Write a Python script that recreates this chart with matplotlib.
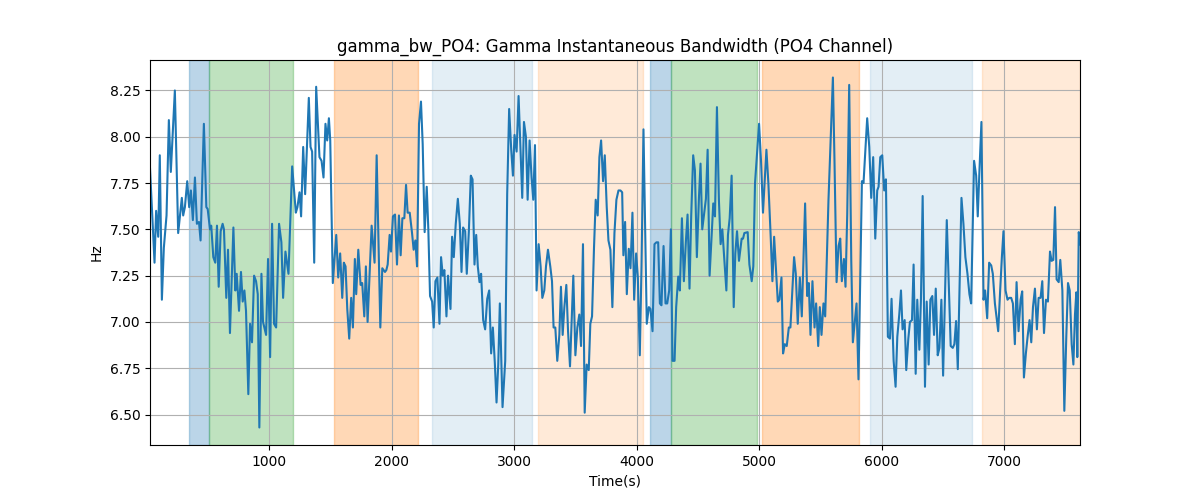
import matplotlib
matplotlib.use("Agg")
import matplotlib.pyplot as plt

time_s = [
    25, 62, 75, 92, 105, 122, 138, 160, 179, 195, 228, 255, 285, 296, 310, 329, 345, 359, 375, 392,
    408, 425, 438, 465, 485, 496, 515, 525, 542, 558, 572, 586, 602, 618, 629, 648, 662, 678, 706, 722,
    733, 752, 768, 782, 796, 809, 828, 842, 858, 875, 891, 905, 918, 935, 948, 973,
    989, 1006, 1022, 1038, 1055, 1079, 1098, 1112, 1131, 1156, 1186, 1216, 1229, 1246, 1259, 1276, 1292, 1322, 1336, 1349,
    1366, 1382, 1409, 1426, 1442, 1458, 1472, 1486, 1497, 1518, 1546, 1562, 1578, 1595, 1608, 1622, 1636, 1652, 1668, 1682,
    1698, 1709, 1726, 1745, 1758, 1775, 1788, 1802, 1835, 1859, 1876, 1906, 1922, 1944,
    1955, 1966, 1982, 1993, 2009, 2026, 2042, 2058, 2072, 2086, 2102, 2116, 2129, 2146, 2165, 2178, 2192, 2206, 2222, 2238,
    2252, 2268, 2285, 2298, 2312, 2329, 2342, 2356, 2372, 2389, 2402, 2416, 2429, 2446, 2459, 2479, 2492, 2506, 2522, 2539,
    2555, 2569, 2582, 2599, 2612, 2629, 2645, 2659, 2675, 2689, 2702, 2716, 2729, 2746, 2762, 2779, 2795, 2811, 2825, 2841,
    2855, 2869, 2882, 2904,
    2926, 2942, 2958, 2975, 2989, 3002, 3019, 3035, 3049, 3065, 3079, 3095, 3109, 3125, 3141, 3155, 3169, 3182, 3199, 3215,
    3229, 3245, 3259, 3275, 3294, 3308, 3321, 3335, 3351, 3368, 3381, 3395, 3409, 3425, 3439, 3455, 3482, 3499, 3515, 3531,
    3545, 3561, 3575, 3591, 3608, 3621, 3635, 3651, 3665, 3681, 3695, 3709, 3725, 3739, 3755, 3769, 3785, 3801, 3818, 3834,
    3851, 3867, 3881,
    3891, 3905, 3919, 3935, 3949, 3965, 3979, 3995, 4009, 4025, 4039, 4055, 4082, 4099, 4112, 4129, 4145, 4161, 4175, 4189,
    4202, 4219, 4235, 4249, 4265, 4279, 4292, 4309, 4322, 4339, 4352, 4369, 4385, 4401, 4415, 4431, 4445, 4461, 4475, 4491,
    4508, 4521, 4535, 4551, 4565, 4579, 4595, 4611, 4625, 4639, 4655, 4671, 4685, 4699, 4715, 4732, 4745, 4759, 4775, 4792,
    4805, 4819, 4835,
    4857, 4868, 4879, 4906, 4920, 4939, 4952, 4966, 4999, 5015, 5031, 5059, 5075, 5094, 5108, 5122, 5135, 5152, 5165, 5182,
    5195, 5209, 5225, 5242, 5255, 5269, 5285, 5299, 5315, 5332, 5348, 5375, 5392, 5405, 5419, 5435, 5452, 5465, 5482, 5495,
    5509, 5525, 5539, 5566, 5602, 5615, 5632, 5648, 5662, 5675, 5692, 5705, 5719, 5735, 5752, 5765, 5779, 5795,
    5811, 5839, 5852, 5882, 5899, 5915, 5931, 5948, 5964, 5975, 5989, 6005, 6021, 6035, 6051, 6068, 6081, 6098, 6114, 6128,
    6144, 6158, 6171, 6188, 6201, 6218, 6231, 6248, 6261, 6278, 6291, 6308, 6321, 6335, 6354, 6368, 6384, 6398, 6414, 6428,
    6442, 6458, 6472, 6488, 6502, 6532, 6548, 6564, 6581, 6594, 6608, 6622, 6652, 6668, 6684, 6701, 6717, 6731, 6755, 6772,
    6785, 6799, 6815, 6832, 6845, 6862, 6878, 6895, 6908, 6925, 6938, 6952, 6968, 6982, 6995, 7012, 7028, 7042, 7058, 7072,
    7088, 7102, 7118, 7135, 7148, 7162, 7178, 7192, 7208, 7222, 7236, 7252, 7268, 7282, 7298, 7312, 7326, 7342, 7358, 7375,
    7388, 7402, 7416, 7429, 7446, 7459, 7476, 7492, 7508, 7522, 7536, 7552, 7566, 7579, 7590, 7598, 7610, 7620,
]

bandwidth_hz = [
    7.83, 7.32, 7.60, 7.46, 7.90, 7.12, 7.40, 7.575, 8.09, 7.81, 8.25, 7.48, 7.67, 7.575, 7.62, 7.76, 7.62, 7.71, 7.55, 7.78,
    7.53, 7.54, 7.44, 8.07, 7.62, 7.61, 7.50, 7.52, 7.35, 7.32, 7.52, 7.19, 7.49, 7.53, 7.50, 7.13, 7.39, 6.94, 7.51, 7.17,
    7.26, 7.06, 7.27, 7.11, 7.17, 7.06, 6.61, 6.99, 6.89, 7.25, 7.22, 7.15, 6.43, 7.26, 7.00, 6.93,
    7.34, 6.81, 7.53, 6.99, 6.97, 7.53, 7.43, 7.13, 7.38, 7.26, 7.84, 7.59, 7.62, 7.70, 7.57, 7.945, 7.69, 8.21, 7.945, 7.92,
    7.32, 8.27, 7.89, 7.87, 7.78, 8.07, 7.98, 8.10, 7.98, 7.21, 7.47, 7.24, 7.37, 7.13, 7.32, 7.30, 7.07, 6.91, 7.13, 6.97,
    7.34, 7.15, 7.39, 7.20, 7.21, 7.03, 7.30, 7.00, 7.52, 7.32, 7.90, 6.97, 7.29, 7.27,
    7.28, 7.31, 7.47, 7.38, 7.57, 7.58, 7.31, 7.575, 7.36, 7.56, 7.56, 7.74, 7.59, 7.59, 7.48, 7.39, 7.44, 7.30, 8.07, 8.19,
    7.96, 7.485, 7.73, 7.50, 7.14, 7.11, 6.97, 7.22, 7.24, 6.99, 7.35, 7.25, 7.28, 7.03, 7.25, 7.07, 7.46, 7.35, 7.53, 7.665,
    7.53, 7.27, 7.51, 7.49, 7.26, 7.49, 7.79, 7.77, 7.31, 7.47, 7.30, 7.215, 7.26, 7.01, 6.96, 7.125, 7.17, 6.83, 6.97, 6.78,
    6.565, 6.77, 7.10, 6.54,
    6.79, 7.69, 8.15, 7.93, 7.79, 8.01, 7.92, 8.22, 7.96, 7.67, 8.08, 8.00, 7.66, 7.98, 7.78, 7.66, 7.955, 7.17, 7.42, 7.30,
    7.13, 7.17, 7.30, 7.39, 7.30, 7.22, 6.97, 6.97, 6.79, 6.93, 7.19, 6.93, 7.08, 7.20, 6.95, 6.76, 7.25, 6.82, 6.97, 7.04,
    6.87, 7.42, 6.51, 6.77, 6.74, 6.99, 7.03, 7.40, 7.66, 7.575, 7.89, 7.98, 7.76, 7.90, 7.62, 7.44, 7.39, 7.08, 7.48, 7.66,
    7.71, 7.71, 7.70,
    7.36, 7.54, 7.15, 7.395, 7.29, 7.59, 7.12, 7.37, 7.24, 6.82, 7.30, 8.04, 6.99, 7.08, 7.07, 6.95, 7.42, 7.43, 7.43, 7.10,
    7.09, 7.41, 7.10, 7.10, 7.17, 7.50, 6.79, 6.79, 7.08, 7.245, 7.17, 7.56, 7.22, 7.43, 7.58, 7.18, 7.575, 7.90, 7.82, 7.35,
    7.67, 7.855, 7.50, 7.59, 7.665, 7.93, 7.25, 7.46, 7.64, 7.57, 8.16, 7.66, 7.42, 7.50, 7.34, 7.17, 7.47, 7.56, 7.79, 7.08,
    7.37, 7.49, 7.33,
    7.45, 7.45, 7.48, 7.485, 7.31, 7.22, 7.30, 7.75, 8.07, 7.87, 7.59, 7.93, 7.75, 7.46, 7.22, 7.46, 7.31, 7.11, 7.12, 7.24,
    6.83, 6.88, 6.87, 6.97, 6.97, 7.15, 7.35, 7.26, 6.99, 7.24, 7.03, 7.64, 7.14, 7.21, 6.93, 7.22, 6.97, 7.10, 6.87, 7.08,
    6.93, 7.10, 7.03, 7.66, 8.32, 7.87, 7.215, 7.41, 7.45, 7.22, 7.34, 7.19, 7.58, 8.28, 7.33, 6.89, 6.99, 7.10,
    6.69, 7.76, 7.75, 8.10, 7.945, 7.67, 7.89, 7.45, 7.71, 7.73, 7.89, 7.90, 7.71, 7.77, 6.92, 6.91, 7.125, 6.79, 6.65, 6.92,
    7.04, 7.17, 6.96, 7.01, 6.74, 6.91, 7.00, 7.01, 7.31, 6.72, 7.12, 6.85, 7.12, 7.68, 6.65, 7.11, 6.77, 7.12, 7.14, 6.93,
    7.18, 6.82, 6.86, 7.12, 6.71, 7.55, 7.21, 6.87, 6.86, 6.88, 7.005, 6.745, 7.67, 7.53, 7.35, 7.26, 7.15, 7.10, 7.87, 7.79,
    7.57, 7.82, 8.08, 7.12, 7.17, 7.02, 7.32, 7.305, 7.26, 7.10, 7.03, 6.95, 7.17, 7.35, 7.49, 7.17, 7.12, 7.13, 7.13, 7.10,
    6.88, 7.215, 6.95, 7.12, 7.165, 6.70, 6.83, 6.92, 7.01, 6.89, 7.08, 7.18, 6.96, 7.13, 7.13, 7.22, 6.94, 7.12, 7.11, 7.38,
    7.33, 7.335, 7.62, 7.23, 7.215, 7.335, 7.17, 6.52, 6.92, 7.21, 7.17, 6.88, 6.77, 7.04, 7.16, 6.81, 7.485, 7.42,
]

span_starts = [345, 503, 1524, 2326, 3191, 4110, 4276, 5027, 5903, 6817]
span_ends = [503, 1194, 2217, 3145, 4050, 4276, 4985, 5818, 6735, 7620]
span_colors = ["tab:blue", "tab:green", "tab:orange", "tab:blue", "tab:orange",
               "tab:blue", "tab:green", "tab:orange", "tab:blue", "tab:orange"]
span_alphas = [0.3, 0.3, 0.3, 0.12, 0.16, 0.3, 0.3, 0.3, 0.12, 0.16]

fig, ax = plt.subplots(figsize=(12, 5), dpi=100)
for s, e, c, a in zip(span_starts, span_ends, span_colors, span_alphas):
    ax.axvspan(s, e, color=c, alpha=a)
ax.plot(time_s, bandwidth_hz, color="tab:blue", linewidth=1.5)
ax.set_xlim(time_s[0], time_s[-1])
ax.grid(True)
ax.set_title("gamma_bw_PO4: Gamma Instantaneous Bandwidth (PO4 Channel)")
ax.set_xlabel("Time(s)")
ax.set_ylabel("Hz")
fig.savefig("out.png", dpi=100)
